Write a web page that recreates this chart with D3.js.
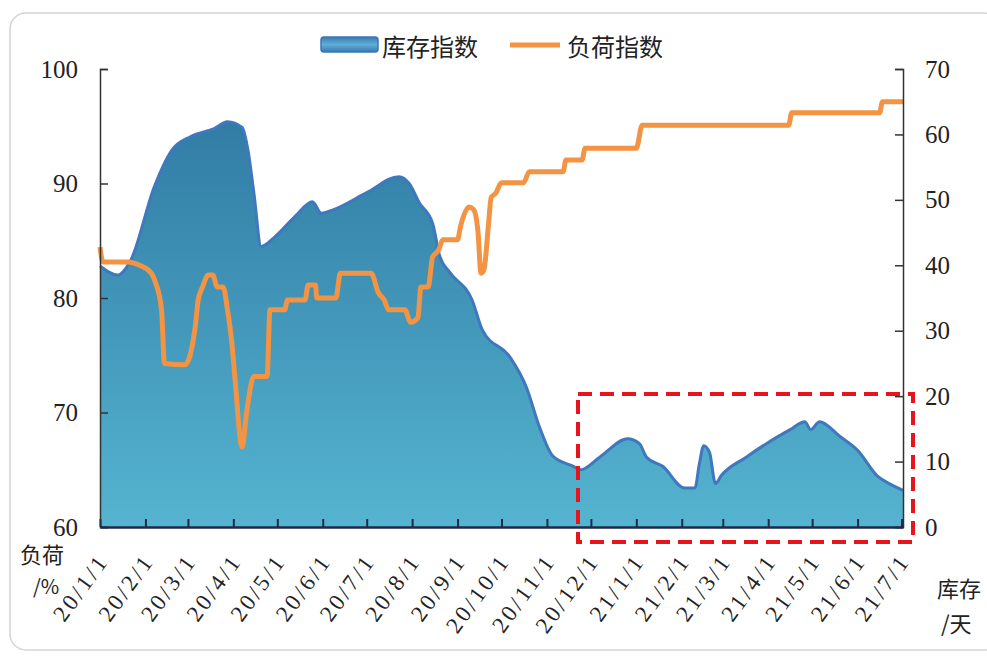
<!DOCTYPE html>
<html>
<head>
<meta charset="utf-8">
<script src="https://cdn.jsdelivr.net/npm/d3@7"></script>
<style>
  body { margin: 0; background: #fff; }
  svg text { fill: #222; }
</style>
</head>
<body>
<div id="chart"></div>
<script>
// 库存指数 (area, left axis values)
var stockDates = ["2020-01-01","2020-01-13","2020-01-22","2020-02-07","2020-02-19","2020-03-03","2020-03-19","2020-03-28",
  "2020-04-07","2020-04-11","2020-04-15","2020-04-20","2020-04-29","2020-05-13","2020-05-25","2020-05-31","2020-06-08",
  "2020-07-01","2020-07-23","2020-07-30","2020-08-06","2020-08-15","2020-08-20","2020-08-27","2020-09-11","2020-09-18",
  "2020-10-07","2020-10-18","2020-10-27","2020-11-05","2020-11-19","2020-11-24","2020-12-07","2020-12-26","2021-01-03",
  "2021-01-08","2021-01-19","2021-02-03","2021-02-10","2021-02-13","2021-02-16","2021-02-20","2021-02-24","2021-02-28",
  "2021-03-17","2021-03-31","2021-04-16","2021-04-26","2021-04-30","2021-05-06","2021-05-20","2021-06-01","2021-06-15",
  "2021-06-24","2021-07-02"];
var stockValues = [82.8,82.0,83.3,89.7,92.9,94.1,94.8,95.4,
  94.9,92.9,89.2,84.5,85.3,87.1,88.4,87.4,87.7,
  89.2,90.6,90.0,88.3,86.5,83.6,82.2,79.8,77.2,
  74.8,72.2,68.7,66.2,65.3,65.0,66.1,67.7,67.3,
  66.1,65.3,63.4,63.4,65.5,67.1,66.5,63.8,64.5,
  66.1,67.3,68.5,69.2,68.5,69.2,67.9,66.7,64.4,
  63.7,63.2];

// 负荷指数 (line, right axis values)
var loadDates = ["2020-01-01","2020-01-03","2020-01-20","2020-01-28","2020-02-05","2020-02-08","2020-02-12","2020-02-14",
  "2020-02-28","2020-03-06","2020-03-08","2020-03-11","2020-03-15","2020-03-18","2020-03-21","2020-03-25","2020-03-28",
  "2020-03-31","2020-04-02","2020-04-07","2020-04-10","2020-04-15","2020-04-24","2020-04-26","2020-05-06","2020-05-08",
  "2020-05-20","2020-05-22","2020-05-27","2020-05-28","2020-06-10","2020-06-13","2020-07-04","2020-07-09","2020-07-13",
  "2020-07-16","2020-07-27","2020-07-31","2020-08-05","2020-08-07","2020-08-12","2020-08-15","2020-08-19","2020-08-22",
  "2020-09-01","2020-09-03","2020-09-09","2020-09-12","2020-09-15","2020-09-17","2020-09-19","2020-09-22","2020-09-24",
  "2020-09-27","2020-10-01","2020-10-16","2020-10-20","2020-11-12","2020-11-14","2020-11-25","2020-11-27","2021-01-01",
  "2021-01-05","2021-04-15","2021-04-17","2021-06-16","2021-06-18","2021-07-02"];
var loadValues = [42.8,40.5,40.5,40.0,38.8,37.3,33.2,25.0,
  24.8,30.6,34.7,36.7,38.5,38.5,36.7,36.7,33.2,
  28.1,23.0,12.2,17.4,23.0,23.0,33.2,33.2,34.7,
  34.7,37.0,37.0,35.0,35.0,38.8,38.8,35.8,34.7,
  33.2,33.2,31.3,32.0,36.7,36.7,41.3,42.3,43.9,
  43.9,45.9,48.9,48.5,45.0,38.8,39.3,45.9,50.4,
  51.0,52.6,52.6,54.3,54.3,56.1,56.1,57.9,57.9,
  61.4,61.4,63.3,63.3,65.0,65.0];

var monthTicks = ["20/1/1","20/2/1","20/3/1","20/4/1","20/5/1","20/6/1","20/7/1","20/8/1","20/9/1","20/10/1",
  "20/11/1","20/12/1","21/1/1","21/2/1","21/3/1","21/4/1","21/5/1","21/6/1","21/7/1"];
var leftTicks = [60, 70, 80, 90, 100];
var rightTicks = [0, 10, 20, 30, 40, 50, 60, 70];

var W = 987, H = 659;
var parse = d3.timeParse("%Y-%m-%d");
var parseTick = d3.timeParse("%y/%m/%d");

var svg = d3.select("#chart").append("svg")
    .attr("width", W).attr("height", H)
    .style("font-family", "'Liberation Serif', 'Times New Roman', serif");

// outer frame
svg.append("rect")
    .attr("x", 10).attr("y", 13).attr("width", 990).attr("height", 637)
    .attr("rx", 16).attr("fill", "none").attr("stroke", "#d4d4d4").attr("stroke-width", 1.5);

var defs = svg.append("defs");
var grad = defs.append("linearGradient").attr("id", "areaGrad")
    .attr("x1", 0).attr("y1", 0).attr("x2", 0).attr("y2", 1);
grad.append("stop").attr("offset", "0%").attr("stop-color", "#317ca5");
grad.append("stop").attr("offset", "100%").attr("stop-color", "#55b4d0");
var lgGrad = defs.append("linearGradient").attr("id", "legGrad")
    .attr("x1", 0).attr("y1", 0).attr("x2", 0).attr("y2", 1);
lgGrad.append("stop").attr("offset", "0%").attr("stop-color", "#3a78b5");
lgGrad.append("stop").attr("offset", "50%").attr("stop-color", "#5fb0d4");
lgGrad.append("stop").attr("offset", "100%").attr("stop-color", "#3a78b5");

var x = d3.scaleTime()
    .domain([parse("2020-01-01"), parse("2021-07-02")])
    .range([100, 903]);
var yL = d3.scaleLinear().domain([60, 100]).range([527, 69]);
var yR = d3.scaleLinear().domain([0, 70]).range([527, 69]);

var stock = stockDates.map(function(d, i) { return {date: parse(d), value: stockValues[i]}; });
var load = loadDates.map(function(d, i) { return {date: parse(d), value: loadValues[i]}; });

var area = d3.area()
    .x(function(d) { return x(d.date); })
    .y0(yL(60))
    .y1(function(d) { return yL(d.value); })
    .curve(d3.curveMonotoneX);
var areaTop = d3.line()
    .x(function(d) { return x(d.date); })
    .y(function(d) { return yL(d.value); })
    .curve(d3.curveMonotoneX);

svg.append("path").datum(stock)
    .attr("d", area).attr("fill", "url(#areaGrad)");
svg.append("path").datum(stock)
    .attr("d", areaTop).attr("fill", "none")
    .attr("stroke", "#3f78bd").attr("stroke-width", 3).attr("stroke-linejoin", "round");

var line = d3.line()
    .x(function(d) { return x(d.date); })
    .y(function(d) { return yR(d.value); })
    .curve(d3.curveMonotoneX);
svg.append("path").datum(load)
    .attr("d", line).attr("fill", "none")
    .attr("stroke", "#f29443").attr("stroke-width", 5).attr("stroke-linejoin", "round");

// axes
var gl = svg.append("g").attr("transform", "translate(100,0)")
    .call(d3.axisLeft(yL).tickValues(leftTicks).tickSize(-8).tickPadding(22));
var gr = svg.append("g").attr("transform", "translate(903,0)")
    .call(d3.axisRight(yR).tickValues(rightTicks).tickSize(-8).tickPadding(22));
[gl, gr].forEach(function(g) {
    g.select(".domain").attr("stroke", "#333").attr("stroke-width", 1.5);
    g.selectAll(".tick line").attr("stroke", "#333").attr("stroke-width", 1.5);
    g.selectAll("text").attr("font-size", 25)
        .attr("font-family", "'Liberation Serif', serif").attr("fill", "#222");
});

var gx = svg.append("g").attr("transform", "translate(0,527)")
    .call(d3.axisBottom(x).tickValues(monthTicks.map(parseTick)).tickSize(-8).tickSizeOuter(0)
        .tickFormat(function(d, i) { return monthTicks[i]; }));
gx.select(".domain").attr("stroke", "#1e2a48").attr("stroke-width", 2.5);
gx.selectAll(".tick line").attr("stroke", "#1e2a48").attr("stroke-width", 2);
gx.selectAll("text")
    .attr("font-size", 23).attr("font-family", "'Liberation Serif', serif").attr("fill", "#222")
    .attr("letter-spacing", 3)
    .attr("text-anchor", "end")
    .attr("dy", 0).attr("y", 0)
    .attr("transform", "translate(9,34) rotate(-54)");

// axis titles
var cjk = "'Noto Sans CJK SC', sans-serif";
svg.append("text").attr("x", 20).attr("y", 563).attr("font-family", cjk).attr("font-size", 22).text("负荷");
svg.append("text").attr("x", 33).attr("y", 594).attr("font-family", cjk).attr("font-size", 20).text("/%");
svg.append("text").attr("x", 937).attr("y", 597).attr("font-family", cjk).attr("font-size", 22).text("库存");
svg.append("text").attr("x", 941).attr("y", 632).attr("font-family", cjk).attr("font-size", 22).text("/天");

// legend
svg.append("rect").attr("x", 321).attr("y", 37).attr("width", 57).attr("height", 15).attr("rx", 3)
    .attr("fill", "url(#legGrad)").attr("stroke", "#3b74b6").attr("stroke-width", 1.5);
svg.append("text").attr("x", 382).attr("y", 56).attr("font-family", cjk).attr("font-size", 24).text("库存指数");
svg.append("line").attr("x1", 510).attr("x2", 560).attr("y1", 45).attr("y2", 45)
    .attr("stroke", "#f29443").attr("stroke-width", 5);
svg.append("text").attr("x", 567).attr("y", 56).attr("font-family", cjk).attr("font-size", 24).text("负荷指数");

// red dashed highlight box
svg.append("rect").attr("x", 578).attr("y", 394).attr("width", 335).attr("height", 148)
    .attr("fill", "none").attr("stroke", "#e8141b").attr("stroke-width", 4)
    .attr("stroke-dasharray", "14,8");
</script>
</body>
</html>
